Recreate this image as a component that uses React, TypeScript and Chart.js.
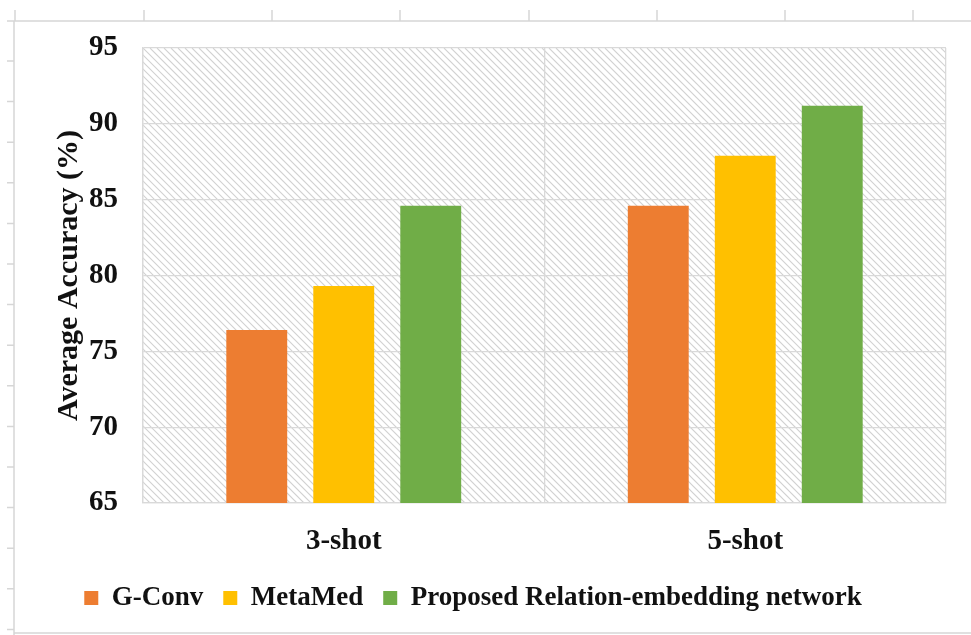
import React, { useEffect, useRef } from 'react';
import { Chart, registerables } from 'chart.js';

Chart.register(...registerables);

const categories = ['3-shot', '5-shot'];
const seriesNames = ['G-Conv', 'MetaMed', 'Proposed Relation-embedding network'];
const gConv = [76.4, 84.6];
const metaMed = [79.3, 87.9];
const proposed = [84.6, 91.2];
const seriesColors = ['#ED7D31', '#FFC000', '#70AD47'];
const yMin = 65;
const yMax = 95;
const yStep = 5;
const yTitle = 'Average Accuracy (%)';

const FONT = "'Liberation Serif', 'Times New Roman', serif";

const sheetFrame = {
  id: 'sheetFrame',
  beforeDraw(chart: any) {
    const ctx = chart.ctx;
    ctx.save();
    ctx.fillStyle = '#ffffff';
    ctx.fillRect(0, 0, chart.width, chart.height);
    ctx.strokeStyle = '#d6d6d6';
    ctx.lineWidth = 1.5;
    ctx.beginPath();
    ctx.moveTo(7, 21);
    ctx.lineTo(chart.width, 21);
    ctx.moveTo(14, 21);
    ctx.lineTo(14, chart.height);
    ctx.moveTo(14, 633);
    ctx.lineTo(chart.width, 633);
    const colX = [15, 144, 272, 400, 529, 657, 785, 913];
    colX.forEach((x) => {
      ctx.moveTo(x, 10);
      ctx.lineTo(x, 21);
    });
    for (let i = 0; i < 15; i++) {
      const y = 61 + i * 40.6;
      ctx.moveTo(7, y);
      ctx.lineTo(14, y);
    }
    ctx.stroke();

    const a = chart.chartArea;
    ctx.beginPath();
    ctx.rect(a.left, a.top, a.right - a.left, a.bottom - a.top);
    ctx.clip();
    ctx.strokeStyle = '#d2d2d2';
    ctx.lineWidth = 1.1;
    const h = a.bottom - a.top;
    ctx.beginPath();
    for (let x = a.left - h; x < a.right; x += 7) {
      ctx.moveTo(x, a.top);
      ctx.lineTo(x + h, a.bottom);
    }
    ctx.stroke();
    ctx.restore();
  },
};

export default function App() {
  const ref = useRef<HTMLCanvasElement | null>(null);
  useEffect(() => {
    if (!ref.current) return;
    const chart = new Chart(ref.current, {
      type: 'bar',
      data: {
        labels: categories,
        datasets: [
          { label: seriesNames[0], data: gConv, backgroundColor: seriesColors[0] },
          { label: seriesNames[1], data: metaMed, backgroundColor: seriesColors[1] },
          { label: seriesNames[2], data: proposed, backgroundColor: seriesColors[2] },
        ],
      },
      options: {
        responsive: false,
        animation: false,
        layout: { padding: { top: 48, right: 25, left: 0, bottom: 13.5 } },
        datasets: {
          bar: { categoryPercentage: 0.65, barPercentage: 0.7 },
        },
        scales: {
          x: {
            grid: { offset: true, color: '#d9d9d9', lineWidth: 1.3, drawTicks: false },
            border: { display: true, color: '#d9d9d9', width: 1.3 },
            ticks: {
              color: '#111',
              padding: 21,
              font: { family: FONT, size: 29, weight: 'bold' },
            },
            afterFit(scale: any) {
              scale.height = 61.5;
            },
          },
          y: {
            min: yMin,
            max: yMax,
            ticks: {
              stepSize: yStep,
              color: '#111',
              padding: 25,
              font: { family: FONT, size: 29, weight: 'bold' },
            },
            grid: { color: '#d9d9d9', lineWidth: 1.3, drawTicks: false },
            border: { display: true, color: '#d9d9d9', width: 1.3 },
            title: {
              display: true,
              text: yTitle,
              color: '#111',
              padding: { top: 51, bottom: 0 },
              font: { family: FONT, size: 30, weight: 'bold' },
            },
            afterFit(scale: any) {
              scale.width = 143;
            },
          },
        },
        plugins: {
          legend: {
            position: 'bottom',
            labels: {
              boxWidth: 14,
              boxHeight: 14,
              padding: 20,
              color: '#111',
              font: { family: FONT, size: 27, weight: 'bold' },
            },
          },
          tooltip: { enabled: false },
        },
      },
      plugins: [sheetFrame],
    } as any);
    return () => chart.destroy();
  }, []);

  return (
    <div style={{ position: 'absolute', left: 0, top: 0, width: 971, height: 635, background: '#fff' }}>
      <canvas ref={ref} width={971} height={635} style={{ display: 'block' }} />
    </div>
  );
}
